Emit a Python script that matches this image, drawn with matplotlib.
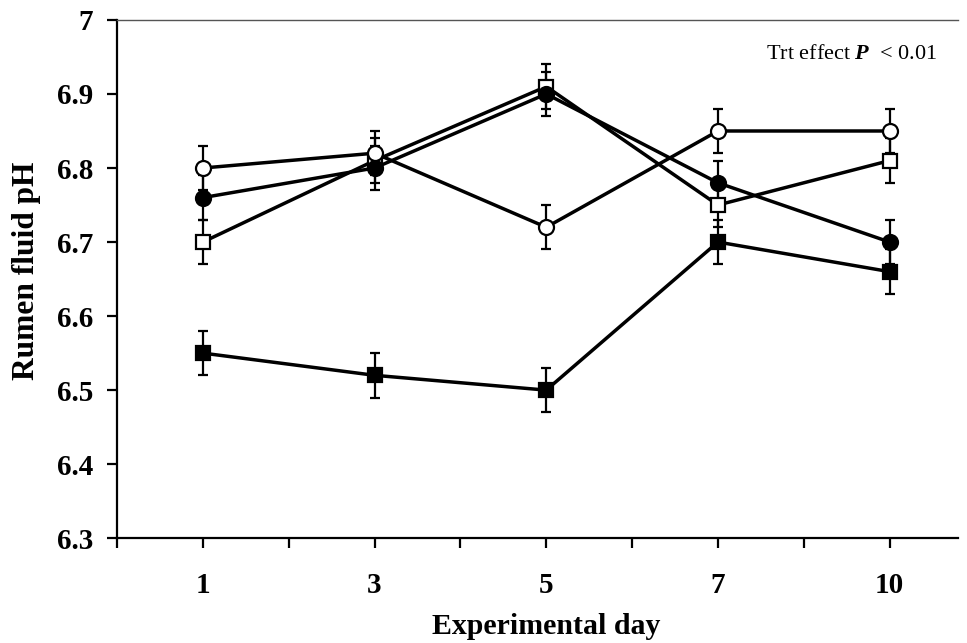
import matplotlib
matplotlib.use("Agg")
import matplotlib.pyplot as plt
import numpy as np

# Sampling days and their slot on the x axis
day_labels = ["1", "3", "5", "7", "10"]
day_pos = [1, 3, 5, 7, 9]

# Rumen fluid pH per treatment (mean and SE)
open_circle = [6.80, 6.82, 6.72, 6.85, 6.85]
open_circle_se = [0.03, 0.03, 0.03, 0.03, 0.03]
filled_circle = [6.76, 6.80, 6.90, 6.78, 6.70]
filled_circle_se = [0.03, 0.03, 0.03, 0.03, 0.03]
open_square = [6.70, 6.81, 6.91, 6.75, 6.81]
open_square_se = [0.03, 0.03, 0.03, 0.03, 0.03]
filled_square = [6.55, 6.52, 6.50, 6.70, 6.66]
filled_square_se = [0.03, 0.03, 0.03, 0.03, 0.03]

y_ticks = [6.3, 6.4, 6.5, 6.6, 6.7, 6.8, 6.9, 7.0]
y_tick_labels = ["6.3", "6.4", "6.5", "6.6", "6.7", "6.8", "6.9", "7"]

plt.rcParams["font.family"] = ["Liberation Serif", "DejaVu Serif"]
plt.rcParams["mathtext.fontset"] = "custom"
plt.rcParams["mathtext.rm"] = "Liberation Serif"
plt.rcParams["mathtext.bf"] = "Liberation Serif:italic:bold"

fig = plt.figure(figsize=(9.67, 6.43), dpi=100)
ax = fig.add_axes([0.121, 0.163, 0.870, 0.806])

series = [
    (filled_square, filled_square_se, "s", "black", 9.5),
    (open_square, open_square_se, "s", "white", 9.5),
    (filled_circle, filled_circle_se, "o", "black", 10.8),
    (open_circle, open_circle_se, "o", "white", 10.8),
]
for vals, se, mk, fc, ms in series:
    ax.errorbar(day_pos, vals, yerr=se, fmt="none", ecolor="black",
                elinewidth=1.6, capsize=3.6, capthick=1.6, zorder=2)
    ax.plot(day_pos, vals, color="black", lw=2.5, zorder=3)
    ax.plot(day_pos, vals, ls="none", marker=mk, ms=ms, mfc=fc,
            mec="black", mew=1.6, zorder=4)

ax.set_xlim(0, 9.8)
ax.set_ylim(6.3, 7.0)

ax.set_xticks(np.arange(0, 10))
ax.set_xticklabels(["" if i not in day_pos else day_labels[day_pos.index(i)]
                    for i in range(10)])
ax.set_yticks(y_ticks)
ax.set_yticklabels(y_tick_labels)

ax.tick_params(axis="both", direction="out", length=7, width=1.6,
               labelsize=21)
ax.tick_params(axis="x", pad=17)
ax.tick_params(axis="y", pad=10)
for lab in ax.get_xticklabels() + ax.get_yticklabels():
    lab.set_fontweight("bold")

ax.spines["right"].set_visible(False)
ax.spines["left"].set_linewidth(1.6)
ax.spines["bottom"].set_linewidth(1.6)
ax.spines["top"].set_linewidth(1.0)
ax.spines["top"].set_color("#555555")

ax.set_xlabel("Experimental day", fontsize=21.5, fontweight="bold")
ax.xaxis.label.set_verticalalignment("baseline")
ax.set_ylabel("Rumen fluid pH", fontsize=22.6, fontweight="bold")
ax.xaxis.set_label_coords(0.51, -0.185)
ax.yaxis.set_label_coords(-0.09, 0.515)

ax.text(0.975, 0.925, r"Trt effect $\mathbf{P}$  < 0.01", transform=ax.transAxes,
        ha="right", va="baseline", fontsize=16)

fig.savefig("out.png", dpi=100)
